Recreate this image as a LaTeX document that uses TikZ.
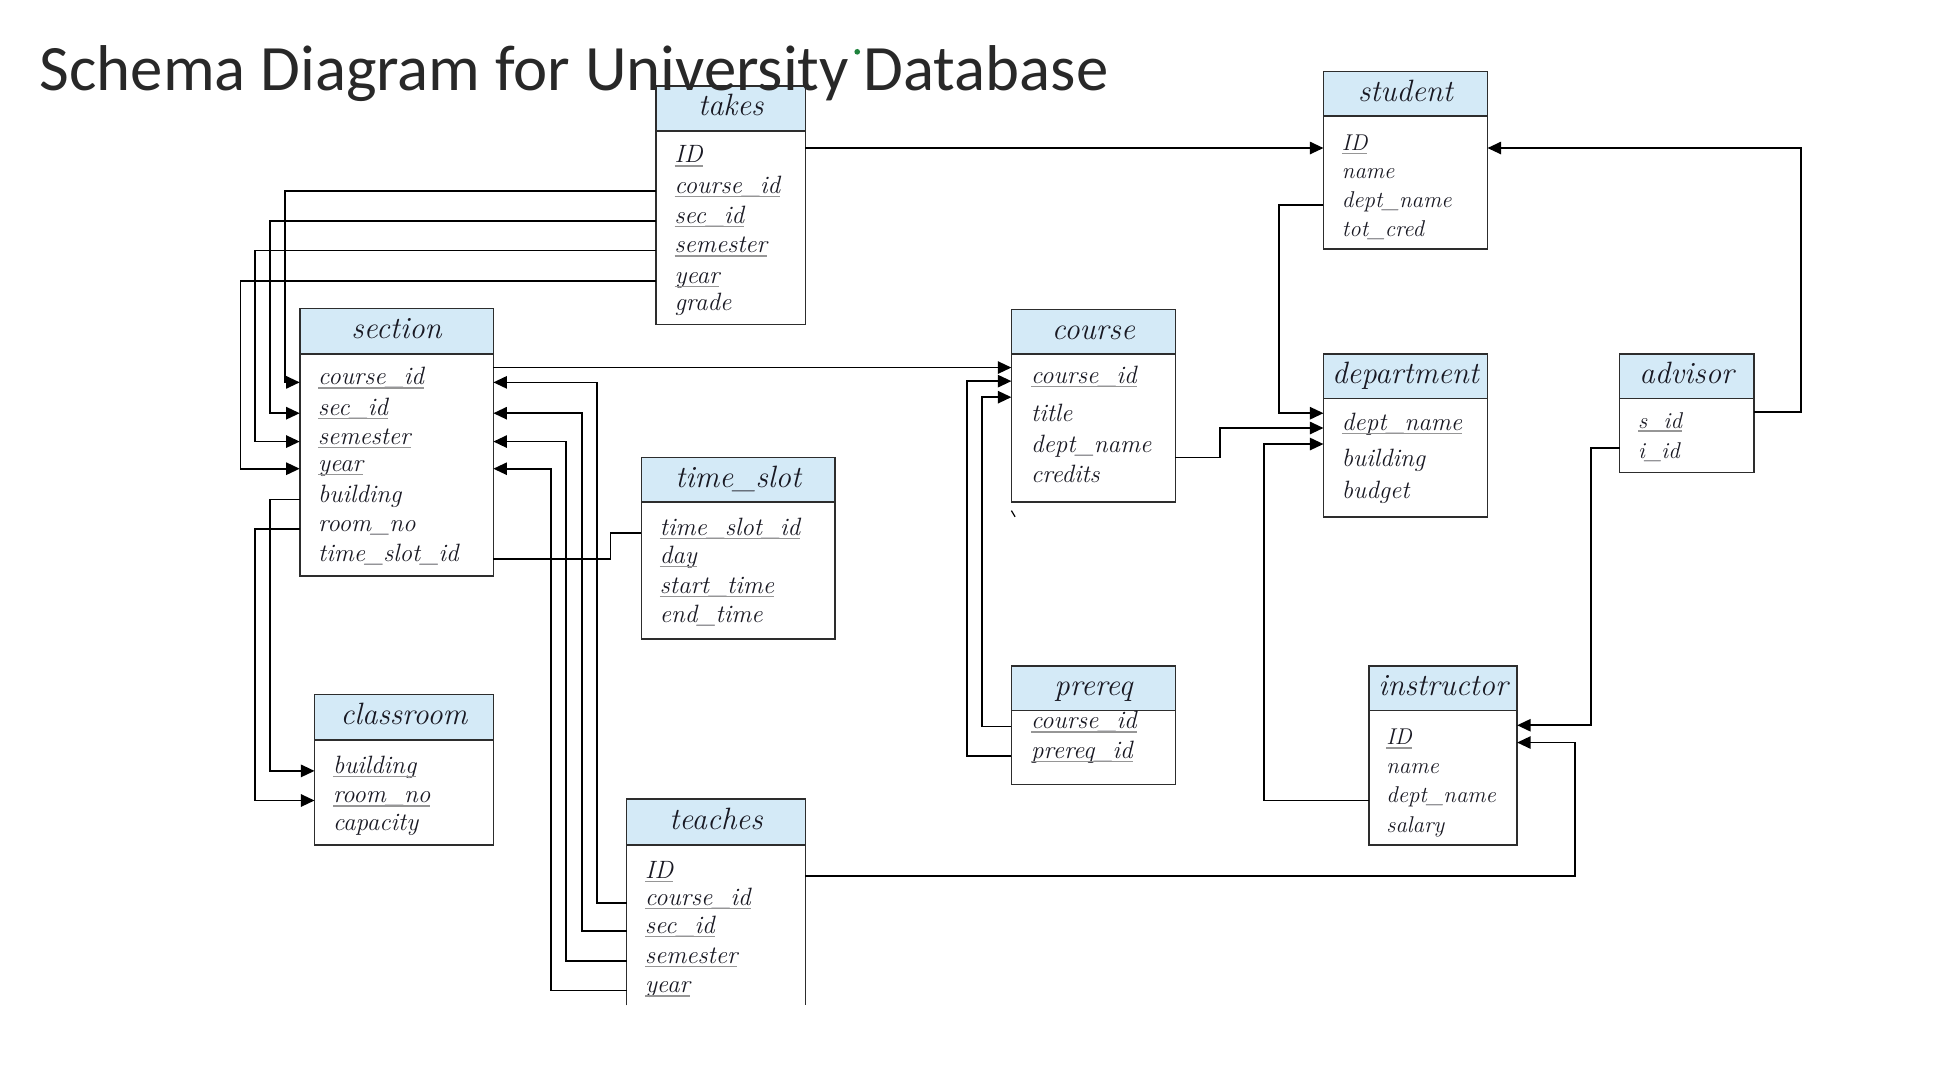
\documentclass[tikz,border=0pt]{standalone}
\usepackage{fontspec}
\usepackage{tikz}
\usetikzlibrary{arrows.meta}
\newfontfamily\titlefont{Carlito}
\definecolor{headblue}{RGB}{212,234,247}
\definecolor{boxline}{RGB}{45,45,45}
\definecolor{ink}{RGB}{25,25,35}
\definecolor{keygray}{RGB}{150,150,150}
\definecolor{titlegray}{RGB}{40,40,40}
\definecolor{dotgreen}{RGB}{30,130,60}
\newcommand\attrfont{\fontsize{20.3}{24}\selectfont\itshape}
\newcommand\attrsmall{\fontsize{18.5}{22}\selectfont\itshape}
\newcommand\headfont{\fontsize{25}{30}\selectfont\itshape}

\begin{document}
\begin{tikzpicture}
      [x = 1pt, y = -1pt,
      head/.style= {
         draw = boxline,
         fill = headblue,
         line width = 1.4pt,
         anchor = north west,
         inner sep = 0pt,
         outer sep = 0pt,
         minimum height = 36,
         text height = 17pt,
         text depth = 5pt,
         font = \headfont,
         text = ink
      },
      body/.style= {
         draw = boxline,
         line width = 1.4pt,
         anchor = north west,
         inner sep = 0pt,
         outer sep = 0pt
      },
      attr/.style= {
         anchor = west,
         inner sep = 0pt,
         outer sep = 0pt,
         text height = 4pt,
         text depth = 0pt,
         font = \attrfont,
         text = ink
      },
      small/.style= {font = \attrsmall},
      keyline/.style= {draw = keygray, line width = 1pt},
      pk/.style= {append after command = {
         ([yshift = -2.5pt]\tikzlastnode.south west)
         edge[keyline] ([yshift = -2.5pt]\tikzlastnode.south east)}},
      link/.style= {line width = 1.4pt, black},
      fk/.style= {link, -{Triangle[length = 11pt, width = 10pt]}}]

      \useasboundingbox (0, 0) rectangle (1568, 871);

      % takes
      \node[head, minimum width = 121] (takes-h) at (532, 70) {takes};
      \node[body, minimum width = 121, minimum height = 157] (takes) at (takes-h.south west) {};
      \node[attr, pk] (takes-id) at (547, 130) {ID};
      \node[attr, pk] (takes-cid) at (547, 155) {course\_id};
      \node[attr, pk] (takes-sid) at (547, 179) {sec\_id};
      \node[attr, pk] (takes-sem) at (547, 203) {semester};
      \node[attr, pk] (takes-yr) at (547, 228) {year};
      \node[attr] (takes-grade) at (547, 250) {grade};

      % student
      \node[head, minimum width = 133] (student-h) at (1073, 58) {student};
      \node[body, minimum width = 133, minimum height = 108] (student) at (student-h.south west) {};
      \node[attr, small, pk] (student-id) at (1088, 120) {ID};
      \node[attr, small] (student-name) at (1088, 143) {name};
      \node[attr, small] (student-dname) at (1088, 166) {dept\_name};
      \node[attr, small] (student-cred) at (1088, 190) {tot\_cred};

      % section
      \node[head, minimum width = 157, minimum height = 37] (section-h) at (243, 250) {section};
      \node[body, minimum width = 157, minimum height = 180] (section) at (section-h.south west) {};
      \node[attr, pk] (section-cid) at (258, 310) {course\_id};
      \node[attr, pk] (section-sid) at (258, 335) {sec\_id};
      \node[attr, pk] (section-sem) at (258, 358) {semester};
      \node[attr, pk] (section-yr) at (258, 380) {year};
      \node[attr] (section-bldg) at (258, 405) {building};
      \node[attr] (section-room) at (258, 429) {room\_no};
      \node[attr] (section-ts) at (258, 453) {time\_slot\_id};

      % course
      \node[head, minimum width = 133] (course-h) at (820, 251) {course};
      \node[body, minimum width = 133, minimum height = 120] (course) at (course-h.south west) {};
      \node[attr, pk] (course-cid) at (836, 309) {course\_id};
      \node[attr] (course-title) at (836, 340) {title};
      \node[attr] (course-dname) at (836, 365) {dept\_name};
      \node[attr] (course-cred) at (836, 389) {credits};

      % department
      \node[head, minimum width = 133] (dept-h) at (1073, 287) {department};
      \node[body, minimum width = 133, minimum height = 96] (dept) at (dept-h.south west) {};
      \node[attr, pk] (dept-dname) at (1088, 347) {dept\_name};
      \node[attr] (dept-bldg) at (1088, 376) {building};
      \node[attr] (dept-budget) at (1088, 402) {budget};

      % advisor
      \node[head, minimum width = 109] (advisor-h) at (1313, 287) {advisor};
      \node[body, minimum width = 109, minimum height = 60] (advisor) at (advisor-h.south west) {};
      \node[attr, small, pk] (advisor-sid) at (1328, 345) {s\_id};
      \node[attr, small] (advisor-iid) at (1328, 370) {i\_id};

      % time_slot
      \node[head, minimum width = 157] (timeslot-h) at (520, 371) {time\_slot};
      \node[body, minimum width = 157, minimum height = 111] (timeslot) at (timeslot-h.south west) {};
      \node[attr, pk] (timeslot-id) at (535, 432) {time\_slot\_id};
      \node[attr, pk] (timeslot-day) at (535, 455) {day};
      \node[attr, pk] (timeslot-start) at (535, 479) {start\_time};
      \node[attr] (timeslot-end) at (535, 503) {end\_time};

      % classroom
      \node[head, minimum width = 145, minimum height = 37] (classroom-h) at (255, 563) {classroom};
      \node[body, minimum width = 145, minimum height = 85] (classroom) at (classroom-h.south west) {};
      \node[attr, pk] (classroom-bldg) at (270, 625) {building};
      \node[attr, pk] (classroom-room) at (270, 649) {room\_no};
      \node[attr] (classroom-cap) at (270, 671) {capacity};

      % prereq
      \node[head, minimum width = 133] (prereq-h) at (820, 540) {prereq};
      \node[body, minimum width = 133, minimum height = 60] (prereq) at (prereq-h.south west) {};
      \node[attr, pk] (prereq-cid) at (836, 589) {course\_id};
      \node[attr, pk] (prereq-pid) at (836, 613) {prereq\_id};

      % instructor
      \node[head, minimum width = 120] (instructor-h) at (1110, 540) {instructor};
      \node[body, minimum width = 120, minimum height = 109] (instructor) at (instructor-h.south west) {};
      \node[attr, small, pk] (instructor-id) at (1124, 602) {ID};
      \node[attr, small] (instructor-name) at (1124, 625) {name};
      \node[attr, small] (instructor-dname) at (1124, 649) {dept\_name};
      \node[attr, small] (instructor-salary) at (1124, 673) {salary};

      % teaches (open at the bottom)
      \node[head, minimum width = 145, minimum height = 37] (teaches-h) at (508, 648) {teaches};
      \node[body, draw = none, minimum width = 145, minimum height = 130] (teaches) at (teaches-h.south west) {};
      \draw[boxline, line width = 1.4pt] (teaches.south west) -- (teaches.north west)
         -- (teaches.north east) -- (teaches.south east);
      \node[attr, pk] (teaches-id) at (523, 710) {ID};
      \node[attr, pk] (teaches-cid) at (523, 732) {course\_id};
      \node[attr, pk] (teaches-sid) at (523, 755) {sec\_id};
      \node[attr, pk] (teaches-sem) at (523, 779) {semester};
      \node[attr, pk] (teaches-yr) at (523, 803) {year};

      % ports that sit between the rows
      \coordinate (course-in1) at ([yshift = 11pt]course.west |- course-cid);
      \coordinate (course-in3) at ([yshift = -13pt]course.west |- course-cid);
      \coordinate (dept-in1) at ([yshift = 12pt]dept.west |- dept-dname);
      \coordinate (dept-in3) at ([yshift = -13pt]dept.west |- dept-dname);
      \coordinate (instr-in1) at ([yshift = 14pt]instructor.east |- instructor-id);

      \draw[fk] (takes.east |- student-id) -- (student.west |- student-id);

      \draw[fk] (takes.west |- takes-cid) -- ++(-301, 0) |- (section.west |- section-cid);
      \draw[fk] (takes.west |- takes-sid) -- ++(-313, 0) |- (section.west |- section-sid);
      \draw[fk] (takes.west |- takes-sem) -- ++(-325, 0) |- (section.west |- section-sem);
      \draw[fk] (takes.west |- takes-yr) -- ++(-337, 0) |- (section.west |- section-yr);

      \draw[fk] (section.west |- section-bldg) -- ++(-24, 0) |- (classroom.west |- classroom-bldg);
      \draw[fk] (section.west |- section-room) -- ++(-36, 0) |- (classroom.west |- classroom-room);
      \draw[link] (section.east |- section-ts) -- ++(95, 0) |- (timeslot.west |- timeslot-id);
      \draw[fk] (section.east |- course-in1) -- (course-in1);

      \draw[fk] (teaches.west |- teaches-cid) -- ++(-24, 0) |- (section.east |- section-cid);
      \draw[fk] (teaches.west |- teaches-sid) -- ++(-36, 0) |- (section.east |- section-sid);
      \draw[fk] (teaches.west |- teaches-sem) -- ++(-49, 0) |- (section.east |- section-sem);
      \draw[fk] (teaches.west |- teaches-yr) -- ++(-61, 0) |- (section.east |- section-yr);
      \draw[fk] (teaches.east |- teaches-id) -- ++(624, 0) |- (instructor.east |- instructor-id);

      \draw[fk] (prereq.west |- prereq-pid) -- ++(-36, 0) |- (course.west |- course-cid);
      \draw[fk] (prereq.west |- prereq-cid) -- ++(-24, 0) |- (course-in3);

      \draw[fk] (student.west |- student-dname) -- ++(-36, 0) |- (dept-in1);
      \draw[fk] ([yshift = -6pt]course.east |- course-dname) -- ++(36, 0) |- (dept.west |- dept-dname);
      \draw[fk] (instructor.west |- instructor-dname) -- ++(-85, 0) |- (dept-in3);

      \draw[fk] ([yshift = 11pt]advisor.east |- advisor-sid) -- ++(38, 0) |- (student.east |- student-id);
      \draw[fk] ([yshift = 7pt]advisor.west |- advisor-iid) -- ++(-23, 0) |- (instr-in1);

      \draw[line width = 1pt] (820, 414) -- (823, 419);

      \node[anchor = base west, inner sep = 0pt, text = titlegray,
         font = {\titlefont\fontsize{52.5}{60}\selectfont}] (title) at (32, 73)
         {Schema Diagram for University Database};
      \fill[dotgreen] (695, 42) circle (2.3);

   \end{tikzpicture}
\end{document}
